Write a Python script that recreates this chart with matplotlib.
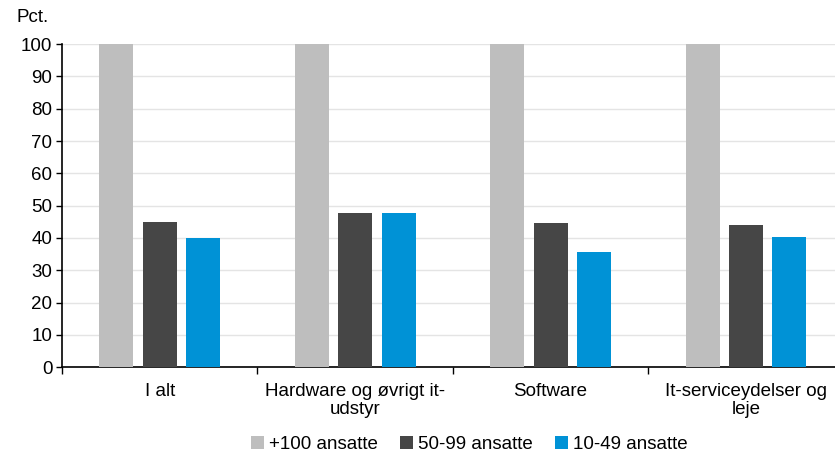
import matplotlib.pyplot as plt
import numpy as np

plt.rcParams['font.family'] = ['Liberation Sans', 'DejaVu Sans']

kategorier = ["I alt", "Hardware og øvrigt it-\nudstyr", "Software", "It-serviceydelser og\nleje"]
serier = ["+100 ansatte", "50-99 ansatte", "10-49 ansatte"]
stor = [100, 100, 100, 100]
mellem = [44.8, 47.6, 44.5, 44.1]
lille = [40.1, 47.6, 35.8, 40.2]
farver = ['#BEBEBE', '#464646', '#0092D6']

fs = 13.5

fig = plt.figure(figsize=(8.35, 4.54), dpi=100)
ax = fig.add_axes([0.0743, 0.191, 0.936, 0.712])

x = np.arange(len(kategorier))
bredde = 0.174
afstand = 0.222
for i, (vals, navn) in enumerate(zip([stor, mellem, lille], serier)):
    ax.bar(x + (i - 1) * afstand, vals, bredde, color=farver[i], label=navn, zorder=3)

ax.set_xlim(-0.5, len(kategorier) - 0.5)
ax.set_ylim(0, 100)
ax.set_yticks(range(0, 101, 10))
ax.grid(axis='y', color='#E4E4E4', linewidth=1, zorder=0)

for s in ['top', 'right']:
    ax.spines[s].set_visible(False)
ax.spines['left'].set_linewidth(1.2)
ax.spines['bottom'].set_linewidth(1.2)

ax.set_xticks(x)
ax.set_xticklabels(kategorier, fontsize=fs, linespacing=1.12)
ax.set_xticks(np.arange(0, len(kategorier)) - 0.5, minor=True)
ax.tick_params(axis='x', which='major', length=0, pad=11)
ax.tick_params(axis='x', which='minor', length=5, width=1)
ax.tick_params(axis='y', labelsize=fs, length=4, width=1, pad=3)

fig.text(0.02, 0.962, "Pct.", fontsize=fs, va='center', ha='left')

fig.legend(loc='center', bbox_to_anchor=(0.562, 0.02), ncol=3, frameon=False,
           fontsize=fs, handlelength=0.7, handleheight=0.7, handletextpad=0.25,
           columnspacing=1.2, borderaxespad=0)

fig.savefig('out.png', dpi=100)
